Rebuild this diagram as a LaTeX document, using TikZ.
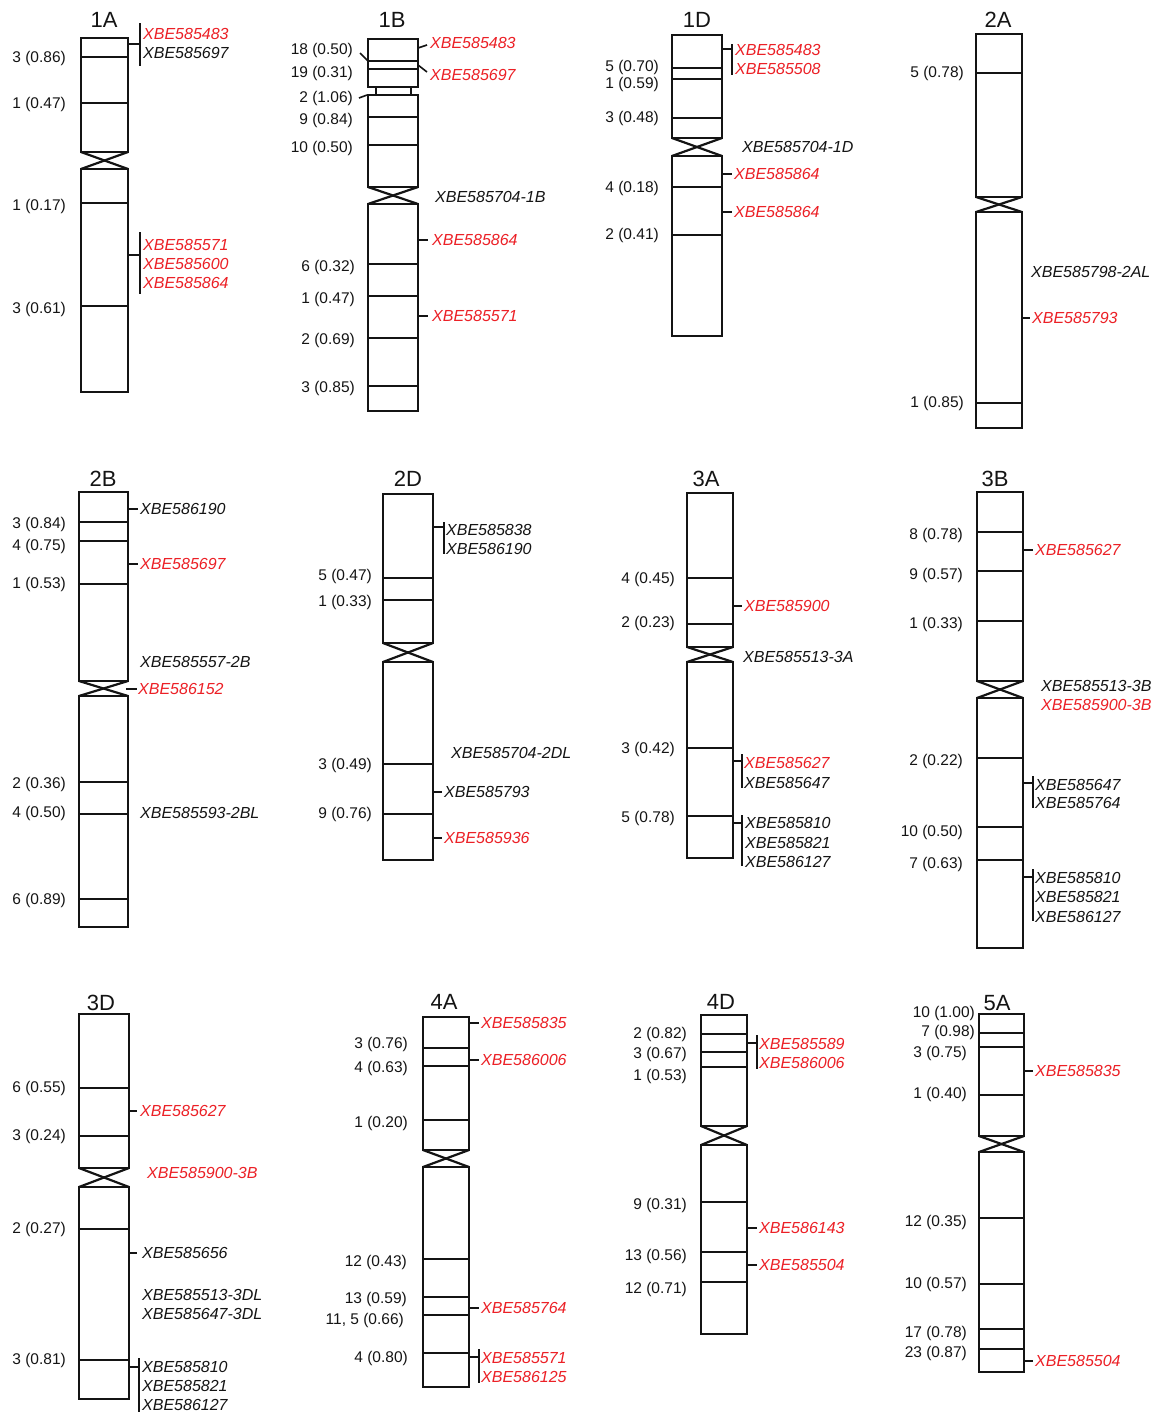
\documentclass[tikz,border=0pt]{standalone}
\usepackage{fontspec}
\setmainfont{Liberation Sans}
\definecolor{mred}{RGB}{236,32,38}
\definecolor{ink}{RGB}{20,20,20}
\newcounter{nd}
\tikzset{
  chr/.style={line width=2.2pt, line join=miter, draw=ink},
  cen/.style={line width=2.6pt, draw=ink},
  band/.style={line width=1.7pt, draw=ink},
  tk/.style={line width=1.6pt, draw=ink},
  nlab/.style={font=\fontsize{15.5}{18}\selectfont, text=ink, anchor=east, inner sep=0pt, text height=11pt, text depth=0pt},
  mlab/.style={font=\fontsize{16}{19}\selectfont\itshape, anchor=west, inner sep=0pt, text height=11.5pt, text depth=0pt},
  ttl/.style={font=\fontsize{22}{26}\selectfont, text=ink, inner sep=0pt, text height=15.8pt, text depth=0pt}
}
% chromosome: xl xr top centromere-top centromere-bottom bottom bands
\newcommand\CHR[7]{%
  \draw[chr] (#1,#3) rectangle (#2,#4);
  \draw[chr] (#1,#5) rectangle (#2,#6);
  \draw[cen] (#1,#4) -- (#2,#4);
  \draw[cen] (#1,#5) -- (#2,#5);
  \draw[chr] (#1,#4) -- (#2,#5);
  \draw[chr] (#2,#4) -- (#1,#5);
  \foreach \b in {#7} {\draw[band] (#1,\b) -- (#2,\b);}
}
\newcommand\NL[3]{\stepcounter{nd}\node[nlab] (nl\arabic{nd}) at (#1,#2) {#3};}
\newcommand\MK[4]{\stepcounter{nd}\node[mlab,text=#3] (mk\arabic{nd}) at (#1,#2) {#4};}
\newcommand\TK[3]{\stepcounter{nd}\coordinate (ta\arabic{nd}) at (#1,#3);\coordinate (tb\arabic{nd}) at (#2,#3);\draw[tk] (ta\arabic{nd}) -- (tb\arabic{nd});}
\newcommand\VB[3]{\stepcounter{nd}\coordinate (va\arabic{nd}) at (#1,#2);\coordinate (vb\arabic{nd}) at (#1,#3);\draw[tk] (va\arabic{nd}) -- (vb\arabic{nd});}
\newcommand\SL[4]{\stepcounter{nd}\coordinate (sa\arabic{nd}) at (#1,#2);\coordinate (sb\arabic{nd}) at (#3,#4);\draw[tk] (sa\arabic{nd}) -- (sb\arabic{nd});}
\begin{document}
\begin{tikzpicture}[x=1pt,y=-1pt]
\fill[white] (0,0) rectangle (1152,1414);
\useasboundingbox (0,0) rectangle (1152,1414);

% ---------- 1A ----------
\node[ttl] (t1A) at (104,20) {1A};
\CHR{81}{128}{38}{152}{169}{392}{57,103,203,306}
\NL{66}{57}{3 (0.86)}\NL{66}{103}{1 (0.47)}\NL{66}{205}{1 (0.17)}\NL{66}{308}{3 (0.61)}
\TK{128}{140}{44}\VB{140}{23}{66}
\MK{143}{34}{mred}{XBE585483}\MK{143}{53}{ink}{XBE585697}
\TK{128}{140}{255}\VB{140}{232}{294}
\MK{143}{245}{mred}{XBE585571}\MK{143}{264}{mred}{XBE585600}\MK{143}{283}{mred}{XBE585864}

% ---------- 1B ----------
\node[ttl] (t1B) at (392,20) {1B};
\draw[chr] (368,39) rectangle (418,87);
\draw[chr] (376,87) rectangle (411,95);
\draw[chr] (368,95) rectangle (418,187);
\draw[chr] (368,204) rectangle (418,411);
\draw[cen] (368,187) -- (418,187);
\draw[cen] (368,204) -- (418,204);
\draw[chr] (368,187) -- (418,204);
\draw[chr] (418,187) -- (368,204);
\foreach \b in {61,69,117,145,264,296,338,386} {\draw[band] (368,\b) -- (418,\b);}
\NL{353}{49}{18 (0.50)}\NL{353}{72}{19 (0.31)}\NL{353}{97}{2 (1.06)}\NL{353}{119}{9 (0.84)}\NL{353}{147}{10 (0.50)}
\NL{355}{266}{6 (0.32)}\NL{355}{298}{1 (0.47)}\NL{355}{339}{2 (0.69)}\NL{355}{387}{3 (0.85)}
\SL{360}{53}{368}{61}\SL{359}{98}{367}{95}
\SL{418}{48}{427}{45}\SL{418}{65}{427}{72}
\MK{430}{43}{mred}{XBE585483}\MK{430}{75}{mred}{XBE585697}
\MK{435}{197}{ink}{XBE585704-1B}
\TK{418}{428}{240}\MK{432}{240}{mred}{XBE585864}
\TK{418}{428}{316}\MK{432}{316}{mred}{XBE585571}

% ---------- 1D ----------
\node[ttl] (t1D) at (697,20) {1D};
\CHR{672}{722}{35}{138}{156}{336}{68,79,118,187,235}
\NL{659}{66}{5 (0.70)}\NL{659}{83}{1 (0.59)}\NL{659}{117}{3 (0.48)}\NL{659}{187}{4 (0.18)}\NL{659}{234}{2 (0.41)}
\TK{722}{732}{49}\VB{732}{44}{75}
\MK{735}{50}{mred}{XBE585483}\MK{735}{69}{mred}{XBE585508}
\MK{742}{147}{ink}{XBE585704-1D}
\TK{722}{732}{174}\MK{734}{174}{mred}{XBE585864}
\TK{722}{732}{212}\MK{734}{212}{mred}{XBE585864}

% ---------- 2A ----------
\node[ttl] (t2A) at (998,20) {2A};
\CHR{976}{1022}{34}{197}{212}{428}{73,403}
\NL{964}{72}{5 (0.78)}\NL{964}{402}{1 (0.85)}
\MK{1031}{272}{ink}{XBE585798-2AL}
\TK{1022}{1030}{318}\MK{1032}{318}{mred}{XBE585793}

% ---------- 2B ----------
\node[ttl] (t2B) at (103,479) {2B};
\CHR{79}{128}{492}{681}{696}{927}{522,541,584,782,814,899}
\NL{66}{523}{3 (0.84)}\NL{66}{545}{4 (0.75)}\NL{66}{583}{1 (0.53)}\NL{66}{783}{2 (0.36)}\NL{66}{812}{4 (0.50)}\NL{66}{899}{6 (0.89)}
\TK{128}{138}{509}\MK{140}{509}{ink}{XBE586190}
\TK{128}{138}{564}\MK{140}{564}{mred}{XBE585697}
\MK{140}{662}{ink}{XBE585557-2B}
\TK{126}{137}{689}\MK{138}{689}{mred}{XBE586152}
\MK{140}{813}{ink}{XBE585593-2BL}

% ---------- 2D ----------
\node[ttl] (t2D) at (408,479) {2D};
\CHR{383}{433}{494}{643}{662}{860}{578,600,764,814}
\NL{372}{575}{5 (0.47)}\NL{372}{601}{1 (0.33)}\NL{372}{764}{3 (0.49)}\NL{372}{813}{9 (0.76)}
\TK{433}{444}{527}\VB{444}{522}{554}
\MK{446}{530}{ink}{XBE585838}\MK{446}{549}{ink}{XBE586190}
\MK{451}{753}{ink}{XBE585704-2DL}
\TK{433}{442}{792}\MK{444}{792}{ink}{XBE585793}
\TK{433}{442}{838}\MK{444}{838}{mred}{XBE585936}

% ---------- 3A ----------
\node[ttl] (t3A) at (706,479) {3A};
\CHR{687}{733}{493}{647}{662}{858}{578,624,748,816}
\NL{675}{578}{4 (0.45)}\NL{675}{622}{2 (0.23)}\NL{675}{748}{3 (0.42)}\NL{675}{817}{5 (0.78)}
\TK{733}{742}{606}\MK{744}{606}{mred}{XBE585900}
\MK{743}{657}{ink}{XBE585513-3A}
\TK{733}{742}{761}\VB{742}{754}{788}
\MK{744}{763}{mred}{XBE585627}\MK{744}{783}{ink}{XBE585647}
\TK{733}{742}{823}\VB{742}{815}{866}
\MK{745}{823}{ink}{XBE585810}\MK{745}{843}{ink}{XBE585821}\MK{745}{862}{ink}{XBE586127}

% ---------- 3B ----------
\node[ttl] (t3B) at (995,479) {3B};
\CHR{977}{1023}{492}{681}{698}{948}{532,571,621,758,827,860}
\NL{963}{534}{8 (0.78)}\NL{963}{574}{9 (0.57)}\NL{963}{623}{1 (0.33)}\NL{963}{760}{2 (0.22)}\NL{963}{831}{10 (0.50)}\NL{963}{863}{7 (0.63)}
\TK{1023}{1033}{550}\MK{1035}{550}{mred}{XBE585627}
\MK{1041}{686}{ink}{XBE585513-3B}\MK{1041}{705}{mred}{XBE585900-3B}
\TK{1023}{1033}{783}\VB{1033}{776}{808}
\MK{1035}{785}{ink}{XBE585647}\MK{1035}{803}{ink}{XBE585764}
\TK{1023}{1033}{877}\VB{1033}{869}{921}
\MK{1035}{878}{ink}{XBE585810}\MK{1035}{897}{ink}{XBE585821}\MK{1035}{917}{ink}{XBE586127}

% ---------- 3D ----------
\node[ttl] (t3D) at (101,1003) {3D};
\CHR{79}{129}{1014}{1168}{1187}{1399}{1088,1136,1229,1360}
\NL{66}{1087}{6 (0.55)}\NL{66}{1135}{3 (0.24)}\NL{66}{1228}{2 (0.27)}\NL{66}{1359}{3 (0.81)}
\TK{129}{137}{1111}\MK{140}{1111}{mred}{XBE585627}
\MK{147}{1173}{mred}{XBE585900-3B}
\TK{129}{137}{1253}\MK{142}{1253}{ink}{XBE585656}
\MK{142}{1295}{ink}{XBE585513-3DL}\MK{142}{1314}{ink}{XBE585647-3DL}
\TK{129}{139}{1367}\VB{139}{1358}{1412}
\MK{142}{1367}{ink}{XBE585810}\MK{142}{1386}{ink}{XBE585821}\MK{142}{1405}{ink}{XBE586127}

% ---------- 4A ----------
\node[ttl] (t4A) at (444,1002) {4A};
\CHR{423}{469}{1017}{1150}{1167}{1387}{1048,1066,1120,1259,1297,1315,1353}
\NL{408}{1043}{3 (0.76)}\NL{408}{1067}{4 (0.63)}\NL{408}{1122}{1 (0.20)}\NL{407}{1261}{12 (0.43)}\NL{407}{1298}{13 (0.59)}\NL{404}{1319}{11, 5 (0.66)}\NL{408}{1357}{4 (0.80)}
\TK{469}{479}{1023}\MK{481}{1023}{mred}{XBE585835}
\TK{469}{479}{1060}\MK{481}{1060}{mred}{XBE586006}
\TK{469}{479}{1308}\MK{481}{1308}{mred}{XBE585764}
\TK{469}{479}{1357}\VB{479}{1349}{1383}
\MK{481}{1358}{mred}{XBE585571}\MK{481}{1377}{mred}{XBE586125}

% ---------- 4D ----------
\node[ttl] (t4D) at (721,1002) {4D};
\CHR{701}{747}{1015}{1126}{1145}{1334}{1034,1052,1067,1202,1252,1282}
\NL{687}{1033}{2 (0.82)}\NL{687}{1053}{3 (0.67)}\NL{687}{1075}{1 (0.53)}\NL{687}{1204}{9 (0.31)}\NL{687}{1255}{13 (0.56)}\NL{687}{1288}{12 (0.71)}
\TK{747}{757}{1043}\VB{757}{1035}{1069}
\MK{759}{1044}{mred}{XBE585589}\MK{759}{1063}{mred}{XBE586006}
\TK{747}{757}{1228}\MK{759}{1228}{mred}{XBE586143}
\TK{747}{757}{1265}\MK{759}{1265}{mred}{XBE585504}

% ---------- 5A ----------
\node[ttl] (t5A) at (997,1003) {5A};
\CHR{979}{1024}{1014}{1136}{1152}{1372}{1033,1047,1095,1218,1284,1329,1349}
\NL{975}{1012}{10 (1.00)}\NL{975}{1031}{7 (0.98)}
\NL{967}{1052}{3 (0.75)}\NL{967}{1093}{1 (0.40)}\NL{967}{1221}{12 (0.35)}\NL{967}{1283}{10 (0.57)}\NL{967}{1332}{17 (0.78)}\NL{967}{1352}{23 (0.87)}
\TK{1024}{1033}{1071}\MK{1035}{1071}{mred}{XBE585835}
\TK{1024}{1033}{1361}\MK{1035}{1361}{mred}{XBE585504}
\end{tikzpicture}
\end{document}
